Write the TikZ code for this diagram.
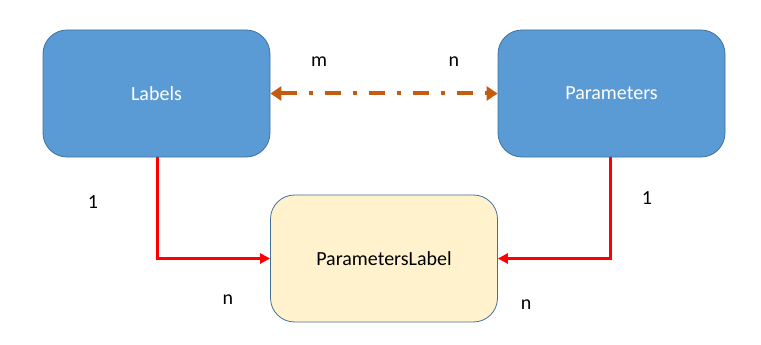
\documentclass[tikz,border=0pt]{standalone}
\usepackage{fontspec}
\setmainfont{Carlito}
\usetikzlibrary{arrows.meta}
\definecolor{boxblue}{HTML}{5B9BD5}
\definecolor{boxedge}{HTML}{41719C}
\definecolor{boxyellow}{HTML}{FFF2CC}
\definecolor{linkorange}{HTML}{C55A11}
\definecolor{linkred}{HTML}{FF0000}
\begin{document}
\begin{tikzpicture}[x=1pt,y=-1pt,
  entity/.style={draw=boxedge, line width=0.8pt, rounded corners=24pt, minimum width=227pt, minimum height=127pt, font=\fontsize{20}{24}\selectfont, inner sep=0pt},
  bluebox/.style={entity, fill=boxblue, text=white},
  yellowbox/.style={entity, fill=boxyellow, text=black},
  card/.style={font=\fontsize{20}{24}\selectfont, text=black, inner sep=0pt},
  relink/.style={draw=linkred, line width=3pt, -{Triangle[length=10pt,width=10pt]}},
  manylink/.style={draw=linkorange, line width=4pt, dash pattern=on 16pt off 12pt on 4pt off 12pt, {Triangle[length=11pt,width=14pt]}-{Triangle[length=11pt,width=14pt]}}
]
\useasboundingbox (0,0) rectangle (761,345);
\node[bluebox] (labels) at (156.5,93.5) {Labels};
\node[bluebox] (params) at (611.5,93.5) {Parameters};
\node[yellowbox] (pl) at (384,258.5) {ParametersLabel};
\coordinate (lc) at (157,258.5);
\coordinate (pc) at (610,258.5);
\draw[manylink] (labels.east) -- (params.west);
\draw[relink, -] (labels.south -| lc) -- (lc);
\draw[relink, shorten <=-1.5pt] (lc) -- (pl.west);
\draw[relink, -] (params.south -| pc) -- (pc);
\draw[relink, shorten <=-1.5pt] (pc) -- (pl.east);
\node[card] (m) at (319,62) {m};
\node[card] (n1) at (454,62) {n};
\node[card] (one1) at (93,202) {1};
\node[card] (n2) at (228,300) {n};
\node[card] (one2) at (647,198) {1};
\node[card] (n3) at (526,305) {n};
\end{tikzpicture}
\end{document}
